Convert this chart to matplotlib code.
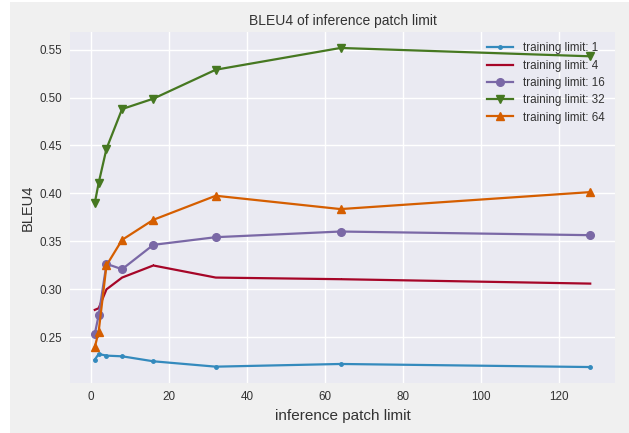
import matplotlib
matplotlib.use("Agg")
import matplotlib.pyplot as plt
from matplotlib.patches import Rectangle

# inference patch limits (x) and BLEU4 per training limit
patch_limits = [1, 2, 4, 8, 16, 32, 64, 128]
bleu_train_1 = [0.2267, 0.2326, 0.2309, 0.2302, 0.2250, 0.2194, 0.2222, 0.2190]
bleu_train_4 = [0.2786, 0.2803, 0.3000, 0.3123, 0.3249, 0.3123, 0.3106, 0.3060]
bleu_train_16 = [0.2535, 0.2730, 0.3266, 0.3210, 0.3464, 0.3544, 0.3603, 0.3565]
bleu_train_32 = [0.3900, 0.4110, 0.4466, 0.4880, 0.4988, 0.5290, 0.5517, 0.5430]
bleu_train_64 = [0.2396, 0.2560, 0.3250, 0.3516, 0.3725, 0.3976, 0.3837, 0.4014]

series = [
    ("training limit: 1", bleu_train_1, ".", "#348ABD"),
    ("training limit: 4", bleu_train_4, ",", "#A60628"),
    ("training limit: 16", bleu_train_16, "o", "#7A68A6"),
    ("training limit: 32", bleu_train_32, "v", "#467821"),
    ("training limit: 64", bleu_train_64, "^", "#D55E00"),
]

plt.rcParams["font.family"] = ["Liberation Sans", "DejaVu Sans"]

fig = plt.figure(figsize=(6.29, 4.33), dpi=100, facecolor="#F0F0F0")
# white margin strips seen on the reference
fig.patches.append(Rectangle((0, 0), 10 / 629, 1, transform=fig.transFigure,
                             facecolor="white", edgecolor="none", zorder=-1))
fig.patches.append(Rectangle((0, 1 - 2 / 433), 1, 2 / 433, transform=fig.transFigure,
                             facecolor="white", edgecolor="none", zorder=-1))

ax = fig.add_axes([70 / 629, 1 - 383 / 433, 545 / 629, 351 / 433])
ax.set_facecolor("#EAEAF2")
for s in ax.spines.values():
    s.set_visible(False)
ax.grid(True, color="white", linewidth=1.0)
ax.set_axisbelow(True)

for label, vals, marker, color in series:
    ax.plot(patch_limits, vals, marker=marker, color=color, label=label,
            linewidth=1.6, markersize=5.5 if marker not in (".", ",") else 5)

ax.set_title("BLEU4 of inference patch limit", fontsize=10, color="#333333", pad=5)
ax.set_xlabel("inference patch limit", fontsize=11, color="#333333", labelpad=4)
ax.set_ylabel("BLEU4", fontsize=10.5, color="#333333", labelpad=3)
ax.tick_params(length=0, labelsize=8.4, labelcolor="#333333", pad=6)

ax.legend(loc="upper right", frameon=False, fontsize=8.4, handlelength=2.3,
          labelspacing=0.45, borderaxespad=0.5, labelcolor="#333333")

fig.savefig("out.png", dpi=100, facecolor=fig.get_facecolor())
